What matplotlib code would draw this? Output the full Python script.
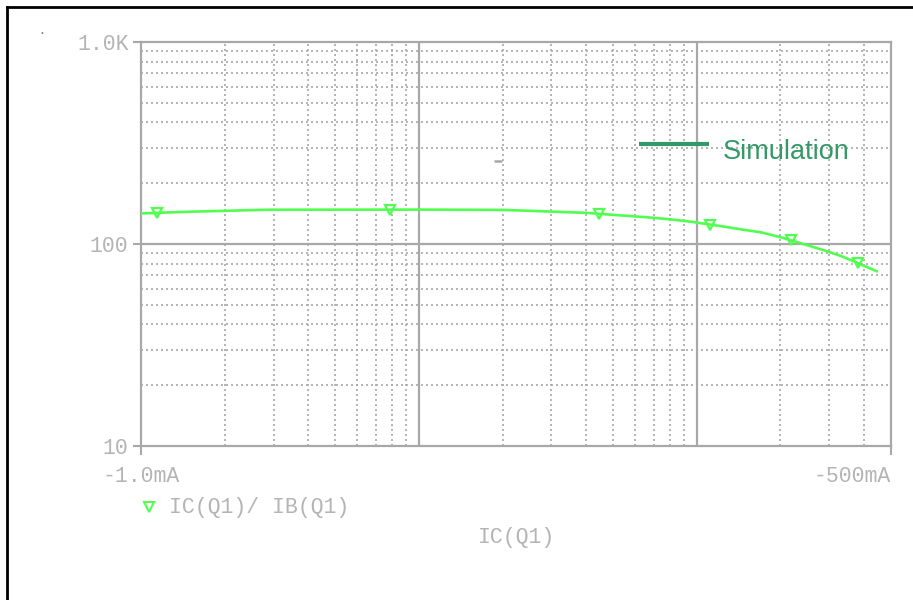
import numpy as np
import matplotlib
matplotlib.use('Agg')
import matplotlib.pyplot as plt
from matplotlib.ticker import LogLocator, NullFormatter, FixedLocator
from matplotlib.lines import Line2D

# curve: IC in mA (shown negative), beta = IC/IB
ic_ma = [1.0, 1.5, 2.85, 10, 20, 26.8, 40.3, 53.4, 67.3, 80.8, 95.4, 122,
         145, 171, 202, 238, 281, 332, 376, 444]
beta = [141.7, 144.5, 147.8, 148.0, 147.5, 145.5, 142.5, 138.5, 135.4, 132.3,
        128.9, 122.6, 118.0, 114.1, 107.7, 100.6, 93.9, 87.0, 80.9, 73.3]
marker_ma = [1.14, 7.84, 44.5, 111.7, 219, 379]

y_ticks = [10, 100, 1000]
y_labels = ['10', '100', '1.0K']
x_ticks = [1, 500]
x_labels = ['-1.0mA', '-500mA']

gray = '#a8a8a8'
txt = '#b4b4b4'
green = '#50ff50'
mono = 'Liberation Mono'

fig = plt.figure(figsize=(9.13, 6), dpi=100)
ax = fig.add_axes([141/913, 1 - 446/600, 750/913, 404/600])

ax.plot(ic_ma, beta, color=green, lw=1.9, zorder=3)
mk_y = 10 ** np.interp(np.log10(marker_ma), np.log10(ic_ma), np.log10(beta))
ax.plot(marker_ma, mk_y, ls='none', marker='v', ms=7.5, mfc='none',
        mec=green, mew=1.6, zorder=4)

ax.set_xscale('log')
ax.set_yscale('log')
ax.set_xlim(1, 500)
ax.set_ylim(10, 1000)

ax.xaxis.set_major_locator(FixedLocator(x_ticks))
ax.set_xticklabels(x_labels)
ax.yaxis.set_major_locator(FixedLocator(y_ticks))
ax.set_yticklabels(y_labels)
subs = np.arange(2, 10)
ax.xaxis.set_minor_locator(LogLocator(base=10, subs=subs))
ax.yaxis.set_minor_locator(LogLocator(base=10, subs=subs))
ax.xaxis.set_minor_formatter(NullFormatter())
ax.yaxis.set_minor_formatter(NullFormatter())

ax.tick_params(which='minor', length=0)
ax.tick_params(which='major', colors=gray, width=1.5, labelcolor=txt,
               labelsize=15.5)
ax.tick_params(axis='y', length=6, pad=3)
ax.tick_params(axis='x', length=6.5, pad=8)
for lab in ax.get_xticklabels() + ax.get_yticklabels():
    lab.set_fontfamily(mono)
xl = ax.get_xticklabels()
xl[1].set_horizontalalignment('right')

ax.grid(which='minor', color=gray, ls=(0, (1.2, 1.8)), lw=1.2)
for v in [10, 100]:
    ax.axvline(v, color=gray, lw=1.6, zorder=2)
ax.axhline(100, color=gray, lw=1.6, zorder=2)

for s in ax.spines.values():
    s.set_color(gray)
    s.set_linewidth(1.6)

# legend row and axis title
ax.plot([0.011], [-0.152], transform=ax.transAxes, marker='v', ms=6.5,
        mfc='none', mec=green, mew=1.5, clip_on=False)
ax.text(0.037, -0.152, 'IC(Q1)/ IB(Q1)', transform=ax.transAxes,
        fontfamily=mono, fontsize=15.5, color=txt, va='center', ha='left')
ax.text(0.5, -0.226, 'IC(Q1)', transform=ax.transAxes, fontfamily=mono,
        fontsize=15.5, color=txt, va='center', ha='center')

# "Simulation" label over the plot
ax.plot([0.664, 0.757], [0.747, 0.747], transform=ax.transAxes,
        color='#339966', lw=3, solid_capstyle='butt', zorder=5)
ax.text(0.776, 0.76, 'Simulation', transform=ax.transAxes,
        fontfamily='Liberation Sans', fontsize=19.5, color='#339966',
        va='top', ha='left', zorder=5)
ax.plot([0.471, 0.481], [0.705, 0.705], transform=ax.transAxes,
        color=gray, lw=1.8, solid_capstyle='butt', zorder=5)
fig.text(42/913, 1 - 30/600, '.', fontsize=11, color='#888888', ha='center',
         va='center')

# outer frame (left and top only, the rest is cut off)
fig.add_artist(Line2D([7/913, 7/913], [0, 1 - 7/600], color='black',
                      lw=2, transform=fig.transFigure))
fig.add_artist(Line2D([7/913, 1], [1 - 7/600, 1 - 7/600], color='black',
                      lw=2, transform=fig.transFigure))

fig.savefig('out.png', dpi=100)
